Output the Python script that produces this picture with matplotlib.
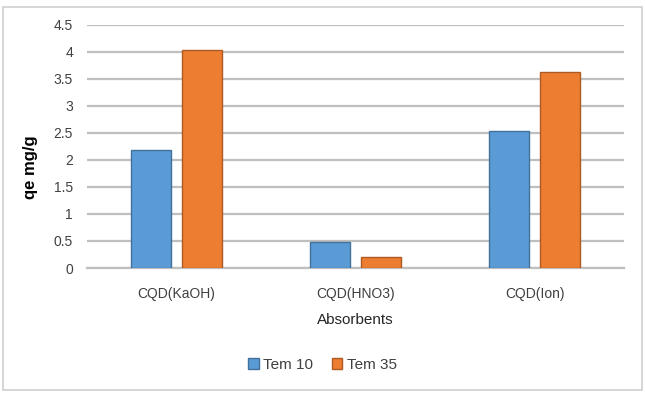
import numpy as np
import matplotlib
matplotlib.use("Agg")
import matplotlib.pyplot as plt
from matplotlib.patches import Rectangle

# data
categories = ['CQD(KaOH)', 'CQD(HNO3)', 'CQD(Ion)']
tem10 = [2.18, 0.48, 2.54]
tem35 = [4.02, 0.21, 3.62]
yticks = [0, 0.5, 1, 1.5, 2, 2.5, 3, 3.5, 4, 4.5]
ytick_labels = ['0', '0.5', '1', '1.5', '2', '2.5', '3', '3.5', '4', '4.5']

plt.rcParams['font.family'] = ['Liberation Sans', 'DejaVu Sans']

fig = plt.figure(figsize=(6.45, 3.96), dpi=100)
ax = fig.add_axes([87/645, 1-268/396, (624-87)/645, (268-24.5)/396])

x = np.arange(len(categories))
w = 0.22
off = 0.143
ax.bar(x - off, tem10, w, color='#5B9BD5', edgecolor='#41719C', linewidth=1, label='Tem 10', zorder=3)
ax.bar(x + off, tem35, w, color='#ED7D31', edgecolor='#AE5A21', linewidth=1, label='Tem 35', zorder=3)

ax.set_xlim(-0.5, 2.5)
ax.set_ylim(0, 4.5)
ax.set_yticks(yticks)
ax.set_yticklabels(ytick_labels)
ax.set_xticks(x)
ax.set_xticklabels(categories)
ax.yaxis.grid(True, color='#BFBFBF', linewidth=1.6, zorder=0)
ax.set_axisbelow(True)
for s in ['top', 'right', 'left']:
    ax.spines[s].set_visible(False)
ax.spines['bottom'].set_color('#BFBFBF')
ax.spines['bottom'].set_linewidth(1.6)
ax.tick_params(length=0, labelsize=10, colors='#404040')
ax.tick_params(axis='y', pad=10)
ax.tick_params(axis='x', pad=14)

ax.set_xlabel('Absorbents', fontsize=11, color='#262626', labelpad=8)
ax.set_ylabel('qe mg/g', fontsize=12, color='black', fontweight='bold')
ax.yaxis.set_label_coords(-0.092, 0.415)

fig.legend(loc='center', bbox_to_anchor=(0.5, 1-365/396), ncol=2, frameon=False,
           fontsize=11, handlelength=0.7, handleheight=0.7, handletextpad=0.3,
           columnspacing=1.2, labelcolor='#404040')

fig.patches.append(Rectangle((3/645, 1-390/396), 639/645, 383/396, transform=fig.transFigure,
                             fill=False, edgecolor='#D0D0D0', linewidth=1.2))

fig.savefig('out.png', dpi=100)
